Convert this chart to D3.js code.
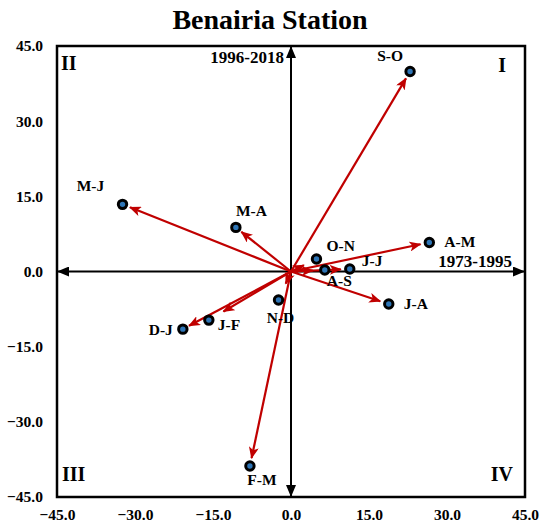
<!DOCTYPE html>
<html>
<head>
<meta charset="utf-8">
<script src="https://cdn.jsdelivr.net/npm/d3@7"></script>
<style>
  body { margin: 0; background: #fff; }
  text { font-family: "Liberation Serif", "Times New Roman", serif; font-weight: bold; fill: #000; }
</style>
</head>
<body>
<svg id="chart" width="540" height="526"></svg>
<script>
// Two-month periods: trend in 1973-1995 (x) vs trend in 1996-2018 (y)
const periods = ["S-O", "A-M", "O-N", "A-S", "J-J", "J-A", "N-D", "M-J", "M-A", "J-F", "D-J", "F-M"];
const trend1973_1995 = [22.9, 26.6, 4.9, 6.5, 11.3, 18.8, -2.4, -32.4, -10.6, -15.8, -20.8, -7.9];
const trend1996_2018 = [39.9, 5.8, 2.5, 0.3, 0.5, -6.5, -5.7, 13.4, 8.8, -9.7, -11.5, -38.8];
const tickValues = [-45, -30, -15, 0, 15, 30, 45];
const quadrantNames = ["I", "II", "III", "IV"];
const title = "Benairia Station";
const xAxisName = "1973-1995";
const yAxisName = "1996-2018";

// label placement around each marker (pixel offsets) and gap left before the marker
const labelPlacement = {
  "S-O": { dx: -20, dy: -11, anchor: "middle", gap: 8 },
  "A-M": { dx: 15, dy: 5, anchor: "start", gap: 9 },
  "O-N": { dx: 10, dy: -8, anchor: "start", gap: 14 },
  "A-S": { dx: 2, dy: 16, anchor: "start", gap: 12 },
  "J-J": { dx: 12, dy: -3, anchor: "start", gap: 9 },
  "J-A": { dx: 15, dy: 5, anchor: "start", gap: 9 },
  "N-D": { dx: 2, dy: 23, anchor: "middle", gap: 18 },
  "M-J": { dx: -32, dy: -13, anchor: "middle", gap: 8 },
  "M-A": { dx: 0, dy: -11, anchor: "start", gap: 7 },
  "J-F": { dx: 9, dy: 10, anchor: "start", gap: 17 },
  "D-J": { dx: -10, dy: 6, anchor: "end", gap: 7 },
  "F-M": { dx: 12, dy: 19, anchor: "middle", gap: 8 }
};

const svg = d3.select("#chart");
const frame = { left: 57, right: 525, top: 46, bottom: 497 };

const x = d3.scaleLinear().domain([-45, 45]).range([frame.left, frame.right]);
const y = d3.scaleLinear().domain([-45, 45]).range([frame.bottom, frame.top]);

const data = periods.map((p, i) => ({ name: p, x: trend1973_1995[i], y: trend1996_2018[i] }));

// Markers for arrowheads
const defs = svg.append("defs");
defs.append("marker")
  .attr("id", "redHead").attr("markerUnits", "userSpaceOnUse")
  .attr("viewBox", "0 0 12 10").attr("refX", 11).attr("refY", 5)
  .attr("markerWidth", 12).attr("markerHeight", 10).attr("orient", "auto")
  .append("path").attr("d", "M0,0 L12,5 L0,10 L3,5 Z").attr("fill", "#c00000");
defs.append("marker")
  .attr("id", "blackHead").attr("markerUnits", "userSpaceOnUse")
  .attr("viewBox", "0 0 12 10").attr("refX", 12).attr("refY", 5)
  .attr("markerWidth", 12).attr("markerHeight", 10).attr("orient", "auto")
  .append("path").attr("d", "M0,0 L12,5 L0,10 Z").attr("fill", "#000");

// Title
svg.append("text")
  .attr("x", 270).attr("y", 29)
  .attr("text-anchor", "middle")
  .style("font-size", "28px")
  .text(title);

// Tick labels (axes drawn with d3-axis, domain and tick lines hidden)
const xAxis = d3.axisBottom(x).tickValues(tickValues).tickFormat(d3.format(".1f")).tickSize(0).tickPadding(0);
const gx = svg.append("g").attr("transform", `translate(0, ${frame.bottom + 12})`).call(xAxis);
const yAxis = d3.axisLeft(y).tickValues(tickValues).tickFormat(d3.format(".1f")).tickSize(0).tickPadding(14);
const gy = svg.append("g").attr("transform", `translate(${frame.left}, 0)`).call(yAxis);
[gx, gy].forEach(g => {
  g.select(".domain").remove();
  g.selectAll("text")
    .style("font-family", '"Liberation Serif", "Times New Roman", serif')
    .style("font-weight", "bold")
    .style("font-size", "15.5px")
    .attr("fill", "#000");
});
gx.selectAll("text").attr("dy", "0.71em");

// Frame
svg.append("rect")
  .attr("x", frame.left).attr("y", frame.top)
  .attr("width", frame.right - frame.left).attr("height", frame.bottom - frame.top)
  .attr("fill", "none").attr("stroke", "#000").attr("stroke-width", 2.5);

// Double-headed central axes
const axisLines = svg.append("g").attr("stroke", "#000").attr("stroke-width", 2);
axisLines.append("line")
  .attr("x1", x(0)).attr("y1", y(0)).attr("x2", x(45)).attr("y2", y(0))
  .attr("marker-end", "url(#blackHead)");
axisLines.append("line")
  .attr("x1", x(0)).attr("y1", y(0)).attr("x2", x(-45)).attr("y2", y(0))
  .attr("marker-end", "url(#blackHead)");
axisLines.append("line")
  .attr("x1", x(0)).attr("y1", y(0)).attr("x2", x(0)).attr("y2", y(45))
  .attr("marker-end", "url(#blackHead)");
axisLines.append("line")
  .attr("x1", x(0)).attr("y1", y(0)).attr("x2", x(0)).attr("y2", y(-45))
  .attr("marker-end", "url(#blackHead)");

// Axis names
svg.append("text")
  .attr("x", x(0) - 7).attr("y", frame.top + 17)
  .attr("text-anchor", "end").style("font-size", "17px")
  .text(yAxisName);
svg.append("text")
  .attr("x", frame.right - 13).attr("y", y(0) - 5)
  .attr("text-anchor", "end").style("font-size", "17px")
  .text(xAxisName);

// Quadrant numerals
const quadPos = {
  "I": { x: frame.right - 19, y: frame.top + 26, anchor: "end" },
  "II": { x: frame.left + 4, y: frame.top + 24, anchor: "start" },
  "III": { x: frame.left + 5, y: frame.bottom - 16, anchor: "start" },
  "IV": { x: frame.right - 12, y: frame.bottom - 16, anchor: "end" }
};
svg.append("g").selectAll("text").data(quadrantNames).join("text")
  .attr("x", d => quadPos[d].x).attr("y", d => quadPos[d].y)
  .attr("text-anchor", d => quadPos[d].anchor)
  .style("font-size", "20px")
  .text(d => d);

// Vectors from the origin to each period
svg.append("g").selectAll("line").data(data).join("line")
  .each(function (d) {
    const x0 = x(0), y0 = y(0), x1 = x(d.x), y1 = y(d.y);
    const len = Math.hypot(x1 - x0, y1 - y0);
    const k = (len - labelPlacement[d.name].gap) / len;
    d3.select(this)
      .attr("x1", x0).attr("y1", y0)
      .attr("x2", x0 + (x1 - x0) * k).attr("y2", y0 + (y1 - y0) * k);
  })
  .attr("stroke", "#c00000").attr("stroke-width", 2.2)
  .attr("marker-end", "url(#redHead)");

// Period markers
svg.append("g").selectAll("circle").data(data).join("circle")
  .attr("cx", d => x(d.x)).attr("cy", d => y(d.y))
  .attr("r", 4.2)
  .attr("fill", "#2e75b6").attr("stroke", "#000").attr("stroke-width", 3);

// Period labels
svg.append("g").selectAll("text").data(data).join("text")
  .attr("x", d => x(d.x) + labelPlacement[d.name].dx)
  .attr("y", d => y(d.y) + labelPlacement[d.name].dy)
  .attr("text-anchor", d => labelPlacement[d.name].anchor)
  .style("font-size", "15.5px")
  .text(d => d.name);
</script>
</body>
</html>
